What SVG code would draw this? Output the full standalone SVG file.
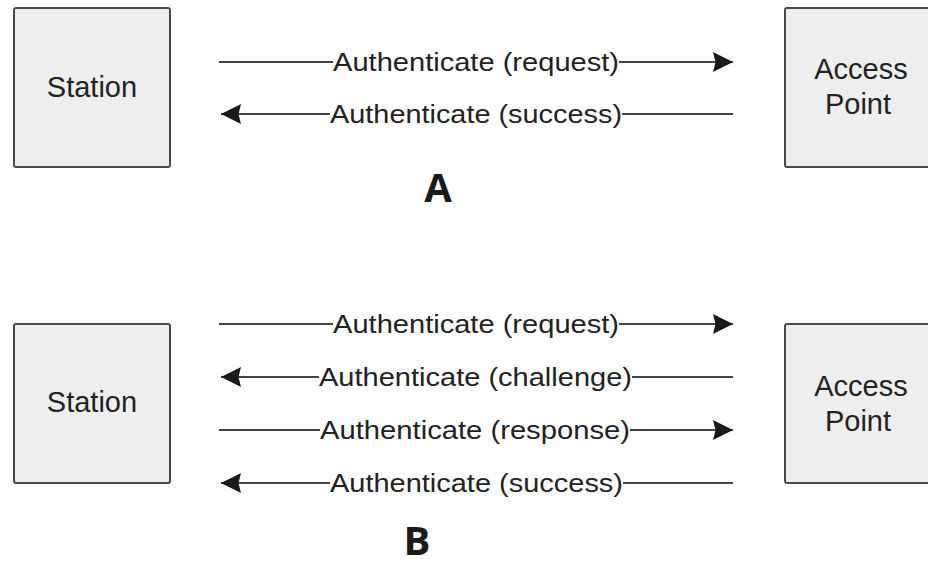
<svg xmlns="http://www.w3.org/2000/svg" width="928" height="566" viewBox="0 0 928 566">
  <style>
    .box { fill: #eeeeee; stroke: #4a4a4a; stroke-width: 2; }
    .node-label { font-family: "Liberation Sans", Arial, sans-serif; font-size: 29px; fill: #222; text-anchor: middle; }
    .msg { font-family: "Liberation Sans", Arial, sans-serif; font-size: 26px; fill: #222; }
    .wire { stroke: #444; stroke-width: 2; fill: none; }
    .part { font-family: "Open Sans", "Liberation Sans", sans-serif; font-weight: bold; font-size: 40px; fill: #1a1a1a; text-anchor: middle; }
  </style>
  <defs>
    <marker id="head" markerUnits="userSpaceOnUse" viewBox="0 0 20 20" refX="20" refY="10" markerWidth="20" markerHeight="20" orient="auto">
      <path d="M0,0 L20,10 L0,20 L2.5,10 Z" fill="#1a1a1a"/>
    </marker>
  </defs>

  <rect width="928" height="566" fill="#ffffff"/>

  <!-- Scenario A: open system authentication -->
  <g id="station-a">
    <rect class="box" x="14" y="8" width="156" height="159" rx="2"/>
    <text class="node-label" x="92" y="97">Station</text>
  </g>
  <g id="access-point-a">
    <rect class="box" x="785" y="8" width="160" height="159" rx="2"/>
    <text class="node-label" x="861" y="79">Access</text>
    <text class="node-label" x="858" y="114">Point</text>
  </g>
  <text id="label-a" class="part" x="438" y="202">A</text>

  <!-- Scenario B: shared key authentication -->
  <g id="station-b">
    <rect class="box" x="14" y="324" width="156" height="159" rx="2"/>
    <text class="node-label" x="92" y="412">Station</text>
  </g>
  <g id="access-point-b">
    <rect class="box" x="785" y="324" width="160" height="159" rx="2"/>
    <text class="node-label" x="861" y="396">Access</text>
    <text class="node-label" x="858" y="431">Point</text>
  </g>
  <text id="label-b" class="part" x="417" y="555">B</text>

  <!-- Message arrows -->
  <g id="connectors">
    <g id="a-request">
      <line class="wire" x1="219" y1="62" x2="333" y2="62"/>
      <line class="wire" x1="619" y1="62" x2="733" y2="62" marker-end="url(#head)"/>
      <text class="msg" x="333" y="71" textLength="286" lengthAdjust="spacingAndGlyphs">Authenticate (request)</text>
    </g>
    <g id="a-success">
      <line class="wire" x1="330" y1="114" x2="221" y2="114" marker-end="url(#head)"/>
      <line class="wire" x1="622" y1="114" x2="733" y2="114"/>
      <text class="msg" x="330" y="123" textLength="292" lengthAdjust="spacingAndGlyphs">Authenticate (success)</text>
    </g>

    <g id="b-request">
      <line class="wire" x1="219" y1="324" x2="333" y2="324"/>
      <line class="wire" x1="619" y1="324" x2="733" y2="324" marker-end="url(#head)"/>
      <text class="msg" x="333" y="333" textLength="286" lengthAdjust="spacingAndGlyphs">Authenticate (request)</text>
    </g>
    <g id="b-challenge">
      <line class="wire" x1="319" y1="377" x2="221" y2="377" marker-end="url(#head)"/>
      <line class="wire" x1="632" y1="377" x2="733" y2="377"/>
      <text class="msg" x="319" y="386" textLength="313" lengthAdjust="spacingAndGlyphs">Authenticate (challenge)</text>
    </g>
    <g id="b-response">
      <line class="wire" x1="219" y1="430" x2="320" y2="430"/>
      <line class="wire" x1="630" y1="430" x2="733" y2="430" marker-end="url(#head)"/>
      <text class="msg" x="320" y="439" textLength="310" lengthAdjust="spacingAndGlyphs">Authenticate (response)</text>
    </g>
    <g id="b-success">
      <line class="wire" x1="330" y1="483" x2="221" y2="483" marker-end="url(#head)"/>
      <line class="wire" x1="623" y1="483" x2="733" y2="483"/>
      <text class="msg" x="330" y="492" textLength="293" lengthAdjust="spacingAndGlyphs">Authenticate (success)</text>
    </g>
  </g>
</svg>
